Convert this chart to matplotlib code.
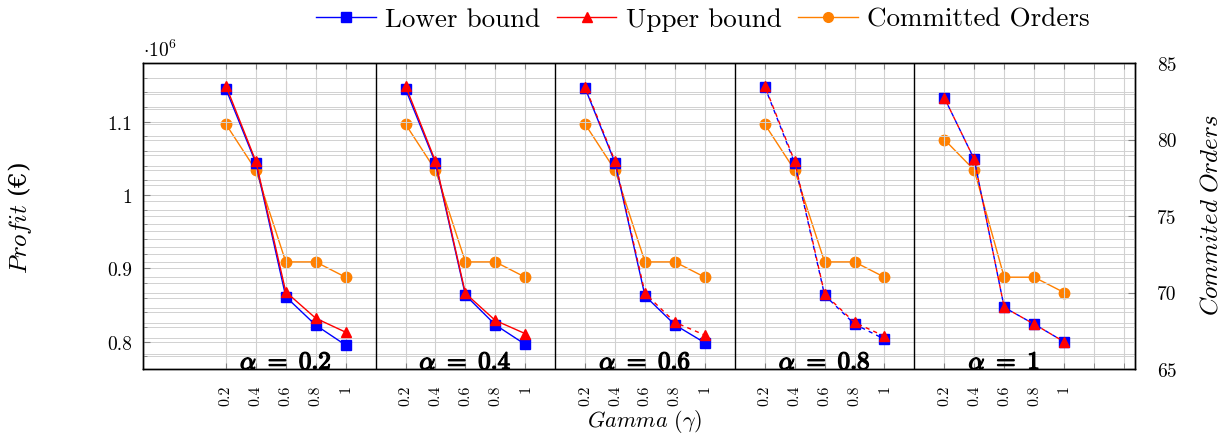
import matplotlib
matplotlib.use("Agg")
import matplotlib.pyplot as plt
import matplotlib.patheffects as pe
from matplotlib.lines import Line2D
from matplotlib.ticker import FixedLocator, MultipleLocator
import numpy as np

plt.rcParams['font.family'] = ['cmr10', 'DejaVu Serif']
plt.rcParams['mathtext.fontset'] = 'cm'
plt.rcParams['axes.formatter.use_mathtext'] = True

gammas = ["0.2", "0.4", "0.6", "0.8", "1"]
alphas = ["0.2", "0.4", "0.6", "0.8", "1"]

lower_bound = [
    [1.1446, 1.0437, 0.8613, 0.8226, 0.7954],
    [1.1446, 1.0437, 0.8636, 0.8230, 0.7963],
    [1.1459, 1.0440, 0.8626, 0.8230, 0.7985],
    [1.1478, 1.0437, 0.8636, 0.8240, 0.8035],
    [1.1327, 1.0487, 0.8468, 0.8240, 0.8000],
]
upper_bound = [
    [1.1491, 1.0460, 0.8680, 0.8320, 0.8130],
    [1.1491, 1.0460, 0.8660, 0.8290, 0.8110],
    [1.1478, 1.0460, 0.8660, 0.8265, 0.8090],
    [1.1490, 1.0460, 0.8650, 0.8263, 0.8075],
    [1.1327, 1.0487, 0.8468, 0.8240, 0.8000],
]
committed = [
    [81, 78, 72, 72, 71],
    [81, 78, 72, 72, 71],
    [81, 78, 72, 72, 71],
    [81, 78, 72, 72, 71],
    [80, 78, 71, 71, 70],
]
lb_dashed = [False, False, False, True, True]
ub_dashed = [False, False, True, True, True]

BLUE = (0, 0, 1)
RED = (1, 0, 0)
ORANGE = (1, 0.5, 0)
GRID = (0.82, 0.82, 0.82)

fig = plt.figure(figsize=(12.24, 4.35), dpi=100)
ax = fig.add_axes([143 / 1224, 1 - 370 / 435, (1135 - 143) / 1224, (370 - 64) / 435])
ax2 = ax.twinx()

n = len(gammas)
step = n + 1
positions = []
labels = []
for g in range(len(alphas)):
    xs = np.arange(n) + step * g
    positions.extend(xs)
    labels.extend(gammas)
    ls_lb = (0, (3, 3)) if lb_dashed[g] else '-'
    ls_ub = (3, (3, 3)) if ub_dashed[g] else '-'
    ax.plot(xs, lower_bound[g], color=BLUE, lw=1.0, ls=ls_lb, marker='s', ms=7, zorder=4)
    ax.plot(xs, upper_bound[g], color=RED, lw=1.0, ls=ls_ub, marker='^', ms=7, zorder=5)
    ax2.plot(xs, committed[g], color=ORANGE, lw=1.0, marker='o', ms=7.5, zorder=3)
    ax.text(step * g + 2, 0.0,
            r'$\alpha\ =\ ' + alphas[g] + '$',
            transform=ax.get_xaxis_transform(), ha='center', va='baseline',
            fontsize=18, clip_on=True, zorder=6,
            path_effects=[pe.withStroke(linewidth=1.0, foreground='black')])

xmin, xmax = -2.77, 30.37
ax.set_xlim(xmin, xmax)
ax.set_ylim(0.7628, 1.1801)
ax2.set_ylim(65, 85)

for g in range(1, len(alphas)):
    ax.axvline(step * g - 1, color='black', lw=1.0, zorder=2)

for x in list(positions) + [29, 30]:
    ax.axvline(x, color=GRID, lw=0.8, zorder=0)

ax.set_xticks(positions)
ax.set_xticklabels(labels, rotation=90, fontsize=11.5)
ax.xaxis.set_minor_locator(FixedLocator([29, 30]))
ax.tick_params(axis='x', which='both', direction='in', top=True, length=4, color='0.5', pad=11)

ax.set_yticks([0.8, 0.9, 1.0, 1.1])
ax.set_yticklabels(["0.8", "0.9", "1", "1.1"], fontsize=14)
ax.yaxis.set_minor_locator(MultipleLocator(0.02))
ax.tick_params(axis='y', which='major', direction='in', length=5, color='0.5', pad=8)
ax.tick_params(axis='y', which='minor', direction='in', length=3, color='0.5')
ax.grid(axis='y', which='both', color=GRID, lw=0.7, zorder=0)
ax.set_axisbelow(True)

ax2.set_yticks([65, 70, 75, 80, 85])
ax2.set_yticklabels(["65", "70", "75", "80", "85"], fontsize=14)
ax2.yaxis.set_minor_locator(MultipleLocator(1))
ax2.tick_params(axis='y', which='major', direction='in', length=5, color='0.5', pad=16)
ax2.tick_params(axis='y', which='minor', direction='in', length=0)
ax2.grid(axis='y', which='both', color=GRID, lw=0.7, zorder=0)
ax2.set_zorder(ax.get_zorder() - 1)
ax.patch.set_visible(False)

for a in (ax, ax2):
    for s in a.spines.values():
        s.set_linewidth(1.0)

fig.text(20 / 1224, 1 - 218 / 435, r'$Profit$ (€)', rotation=90, ha='center', va='center',
         fontsize=18, family=['DejaVu Serif'])
fig.text(1211 / 1224, 1 - 215 / 435, r'$Commited\ Orders$', rotation=90, ha='center', va='center', fontsize=18)
fig.text(645 / 1224, 1 - 422 / 435, r'$Gamma\ (\gamma)$', ha='center', va='center', fontsize=16)
fig.text(143 / 1224, 1 - 50 / 435, r'$\cdot 10^6$', ha='left', va='center', fontsize=14)

handles = [
    Line2D([], [], color=BLUE, lw=1.0, marker='s', ms=7),
    Line2D([], [], color=RED, lw=1.0, marker='^', ms=7),
    Line2D([], [], color=ORANGE, lw=1.0, marker='o', ms=7),
]
fig.legend(handles, ["Lower bound", "Upper bound", "Committed Orders"], ncol=3,
           loc='center', bbox_to_anchor=(703 / 1224, 1 - 20 / 435), frameon=False,
           fontsize=19.5, handlelength=2.2, handletextpad=0.35, columnspacing=0.6)

fig.savefig("out.png", dpi=100)
